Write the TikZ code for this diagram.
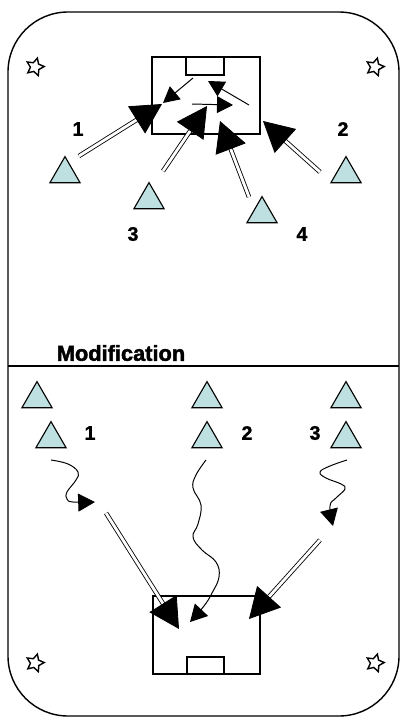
\documentclass[tikz,border=0pt]{standalone}
\usepackage{fontspec}
\setmainfont{Liberation Sans}
\newfontfamily\heavyfont[FakeBold=1.2]{Liberation Sans}
\newfontfamily\blackfont[FakeBold=2]{Liberation Sans}
\usetikzlibrary{shapes.geometric,arrows.meta}

\definecolor{conefill}{RGB}{190,224,224}

\tikzset{
  cone/.style={regular polygon, regular polygon sides=3, draw, fill=conefill,
    line width=0.8pt, minimum size=0.87cm, inner sep=0pt},
  marker/.style={star, star points=5, star point ratio=2, draw, fill=white,
    line width=1pt, minimum size=0.46cm, inner sep=0pt, rotate=-15},
  num/.style={font=\heavyfont\bfseries\fontsize{14}{16}\selectfont},
  pass/.style={double, line width=0.6pt, double distance=2pt,
    -{Triangle[length=0.75cm,width=0.8cm]}},
  move/.style={line width=0.7pt, -{Triangle[length=0.4cm,width=0.42cm]}},
  dribble/.style={line width=0.7pt, -{Triangle[length=0.42cm,width=0.45cm]}},
}

\begin{document}
\begin{tikzpicture}[x=0.025cm, y=-0.025cm]

    \useasboundingbox (0,0) rectangle (400,717);

    % Field and divider
    \draw[line width=1pt, rounded corners=1.5cm] (8,12) rectangle (399,716);
    \draw[line width=1pt] (8,366) -- (399,366);

    % Goals
    \draw[line width=1pt] (152,57) rectangle (260,134);
    \draw[line width=1pt] (186,57) rectangle (224,75);
    \draw[line width=1pt] (153,596) rectangle (260,674);
    \draw[line width=1pt] (187,657) rectangle (224,674);

    % Corner markers
    \node[marker] (s1) at (35,67) {};
    \node[marker] (s2) at (375,67) {};
    \node[marker] (s3) at (35,663) {};
    \node[marker] (s4) at (375,663) {};

    % Cones, top drill
    \node[cone] (c1) at (65,174) {};
    \node[cone] (c2) at (346,174) {};
    \node[cone] (c3) at (149,200) {};
    \node[cone] (c4) at (262,214) {};
    \node[num] (l1) at (78,129) {1};
    \node[num] (l2) at (343,129) {2};
    \node[num] (l3) at (133,234) {3};
    \node[num] (l4) at (302,234) {4};

    % Shots on goal
    \coordinate (a1s) at (79,156);  \coordinate (a1e) at (162,104);
    \coordinate (a2s) at (320,172); \coordinate (a2e) at (263,121);
    \coordinate (a3s) at (163,171); \coordinate (a3e) at (207,106);
    \coordinate (a4s) at (249,197); \coordinate (a4e) at (220,121);
    \draw[pass] (a1s) -- (a1e);
    \draw[pass] (a2s) -- (a2e);
    \draw[pass] (a3s) -- (a3e);
    \draw[pass] (a4s) -- (a4e);

    % Runs inside the box
    \coordinate (t1s) at (193,78);  \coordinate (t1e) at (163,103);
    \coordinate (t2s) at (192,104); \coordinate (t2e) at (233,105);
    \coordinate (t3s) at (249,105); \coordinate (t3e) at (208,81);
    \draw[move] (t1s) -- (t1e);
    \draw[move] (t2s) -- (t2e);
    \draw[move] (t3s) -- (t3e);

    % Modification
    \node[font=\blackfont\bfseries\fontsize{15.5}{18}\selectfont] (mod) at (121,353) {Modification};

    % Cones, bottom drill
    \node[cone] (m1) at (37,399) {};
    \node[cone] (m2) at (207,399) {};
    \node[cone] (m3) at (346,399) {};
    \node[cone] (p1) at (51,439) {};
    \node[cone] (p2) at (207,439) {};
    \node[cone] (p3) at (346,439) {};
    \node[num] (k1) at (90,433) {1};
    \node[num] (k2) at (247,433) {2};
    \node[num] (k3) at (315,433) {3};

    % Dribbles
    \coordinate (w1s) at (51,460);  \coordinate (w1e) at (95,502);
    \coordinate (w2s) at (206,460); \coordinate (w2e) at (190,622);
    \coordinate (w3s) at (347,460); \coordinate (w3e) at (333,526);
    \draw[dribble] plot[smooth, tension=0.7] coordinates {(w1s) (68,464) (78,472) (76,480)
      (67,492) (67,499) (73,502) (w1e)};
    \draw[dribble] plot[smooth, tension=0.7] coordinates {(w2s) (196,475) (193,488) (201,505)
      (198,524) (193,537) (202,550) (216,562) (219,577) (212,593) (204,606) (w2e)};
    \draw[dribble] plot[smooth, tension=0.7] coordinates {(w3s) (330,466) (320,472) (326,478)
      (341,484) (345,489) (336,498) (330,506) (w3e)};

    % Shots after the dribble
    \coordinate (b1s) at (106,513); \coordinate (b1e) at (179,629);
    \coordinate (b2s) at (320,540); \coordinate (b2e) at (249,619);
    \draw[pass] (b1s) -- (b1e);
    \draw[pass] (b2s) -- (b2e);

\end{tikzpicture}
\end{document}
